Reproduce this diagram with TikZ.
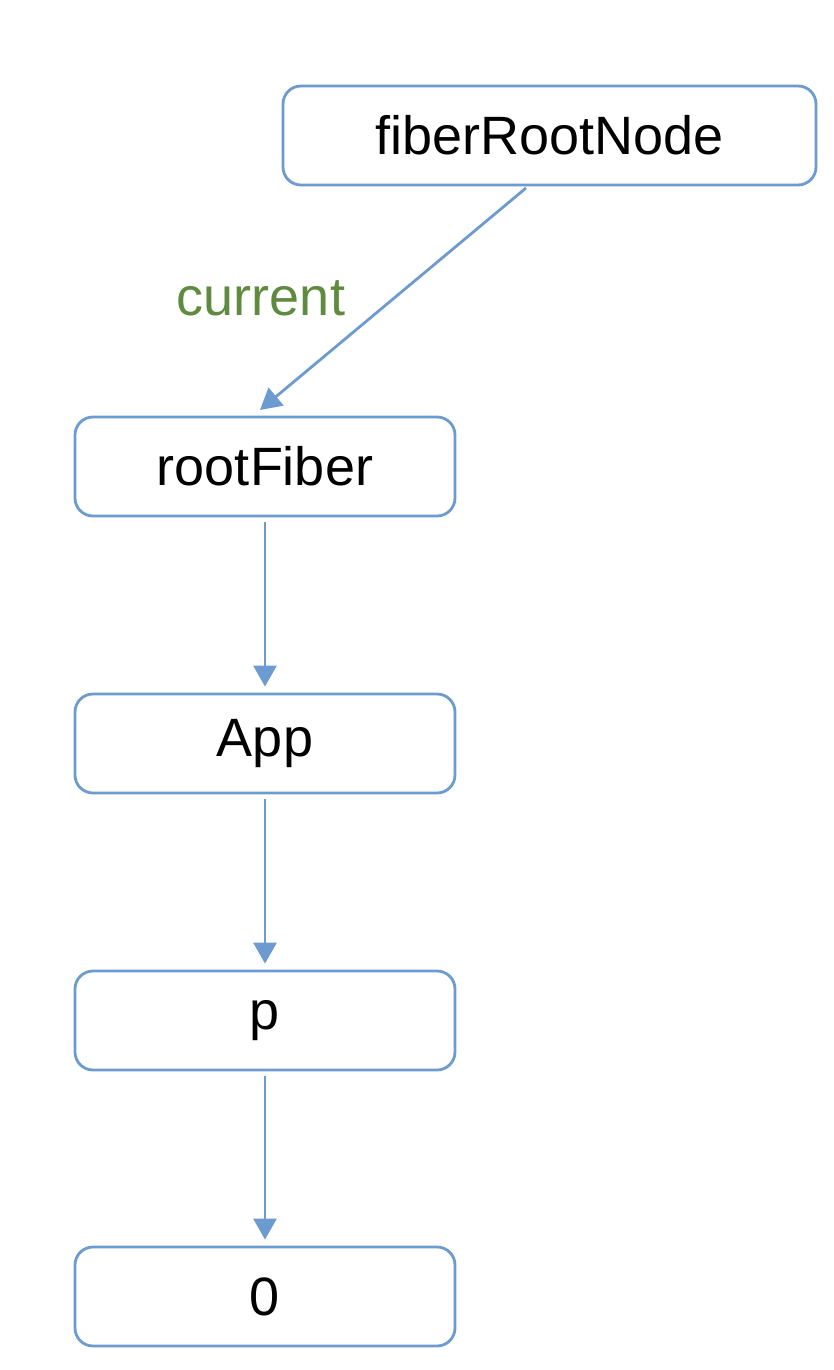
\documentclass[tikz,border=0pt]{standalone}
\usepackage{fontspec}
\setmainfont{Liberation Sans}
\usetikzlibrary{arrows.meta}
\definecolor{edgeblue}{HTML}{6C9BD2}
\definecolor{labelgreen}{HTML}{5F8B3E}
\tikzset{
  fbox/.style={draw=edgeblue, line width=2.8pt, rounded corners=18pt, fill=white,
    minimum height=99pt, inner sep=0pt, font=\fontsize{54}{60}\selectfont, text=black},
  wide/.style={minimum width=533pt},
  narrow/.style={minimum width=380pt},
  conn/.style={draw=edgeblue, line width=2.8pt, -{Triangle[width=23pt,length=21pt]}},
  lbl/.style={font=\fontsize{54}{60}\selectfont, text=labelgreen}
}
\begin{document}
\begin{tikzpicture}[x=1pt,y=-1pt]
\useasboundingbox (0,0) rectangle (834,1370);
\node[fbox,wide] (root) at (549.5,135.5) {fiberRootNode};
\node[fbox,narrow] (rf) at (265,466.5) {rootFiber};
\node[fbox,narrow] (app) at (265,743.5) {App};
\node[fbox,narrow] (p) at (265,1020.5) {p};
\node[fbox,narrow] (zero) at (265,1296.5) {0};
\coordinate (s0) at (526,188);
\coordinate (t0) at (260,410);
\draw[conn] (s0) -- (t0);
\node[lbl] (cur) at (261,298) {current};
\draw[conn] ([yshift=-5pt]rf.south) -- ([yshift=6pt]app.north);
\draw[conn] ([yshift=-5pt]app.south) -- ([yshift=6pt]p.north);
\draw[conn] ([yshift=-5pt]p.south) -- ([yshift=6pt]zero.north);
\end{tikzpicture}
\end{document}
